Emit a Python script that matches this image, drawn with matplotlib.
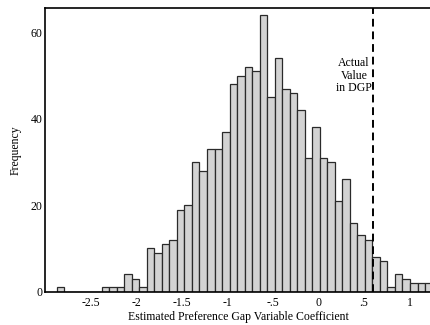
import numpy as np
import matplotlib
matplotlib.use("Agg")
import matplotlib.pyplot as plt

# histogram data (1000 estimates)
bin_start = -2.877
bin_width = 0.0826
counts = [1, 0, 0, 0, 0, 0, 1, 1, 1, 4,
          3, 1, 10, 9, 11, 12, 19, 20, 30, 28,
          33, 33, 37, 48, 50, 52, 51, 64, 45, 54,
          47, 46, 42, 31, 38, 31, 30, 21, 26, 16,
          13, 12, 8, 7, 1, 4, 3, 2, 2, 2]
true_value = 0.602
xticks = [-2.5, -2, -1.5, -1, -0.5, 0, 0.5, 1]
xtick_labels = ["-2.5", "-2", "-1.5", "-1", "-.5", "0", ".5", "1"]
yticks = [0, 20, 40, 60]

plt.rcParams['font.family'] = ['Liberation Serif', 'DejaVu Serif']

fig = plt.figure(figsize=(4.31, 3.25), dpi=100)
ax = fig.add_axes([0.1044, 0.1025, 0.8956, 0.8725])

lefts = bin_start + bin_width * np.arange(len(counts))
ax.bar(lefts, counts, width=bin_width, align='edge',
       color='#d3d3d3', edgecolor='#2a2a2a', linewidth=0.9)

ax.axvline(true_value, color='black', linestyle=(0, (4, 2.5)), linewidth=1.4)
ax.text(true_value - 0.015, 50, "Actual\nValue\nin DGP", ha='right', va='center',
        multialignment='center', fontsize=8.5, linespacing=1.05)

ax.set_xlim(-3.005, 1.236)
ax.set_ylim(0, 65.6)
ax.set_xticks(xticks)
ax.set_xticklabels(xtick_labels)
ax.set_yticks(yticks)
ax.tick_params(axis='both', length=0, labelsize=8.5)
ax.tick_params(axis='x', pad=4)
ax.tick_params(axis='y', pad=2)
ax.spines['right'].set_visible(False)
for s in ['left', 'bottom', 'top']:
    ax.spines[s].set_linewidth(1.2)

ax.set_xlabel("Estimated Preference Gap Variable Coefficient", fontsize=8.5, labelpad=1)
ax.set_ylabel("Frequency", fontsize=8.5, labelpad=6)

fig.savefig("out.png", dpi=100)
